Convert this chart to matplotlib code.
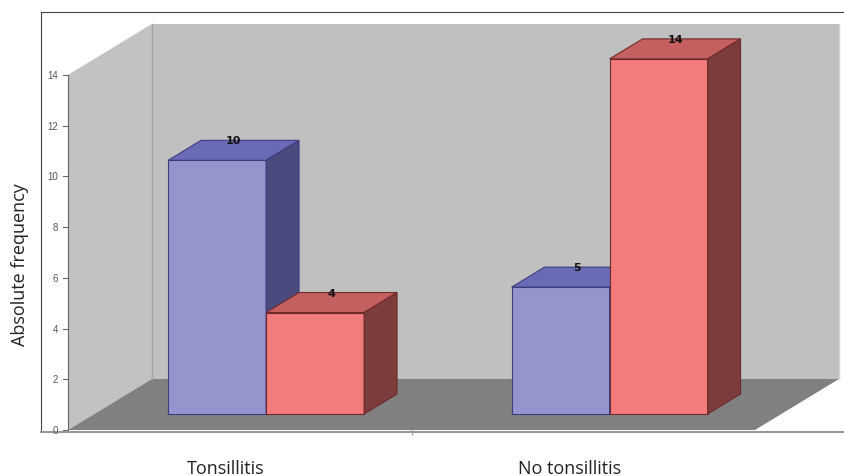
"""
3D-style grouped bar chart: tonsillitis vs. no tonsillitis, absolute frequencies.
Saves out.png.
"""

import matplotlib

matplotlib.use("Agg")
import matplotlib.pyplot as plt
from matplotlib.patches import Polygon

CATEGORIES = ["Tonsillitis", "No tonsillitis"]
SERIES_BLUE = [10, 5]
SERIES_RED = [4, 14]
Y_TICKS = [0, 2, 4, 6, 8, 10, 12, 14]
WALL_TOP = 14

# face colours (front, top, side, edge)
BLUE = ("#9594cc", "#6a6ab6", "#4a4a7e", "#3c3c80")
RED = ("#f27c7c", "#c56060", "#7c3c3c", "#6e2a2a")

# projection of the depth axis onto the plot (in data units)
DX, DY = 0.2445, 2.011
D0, D1 = 0.314, 0.706      # bar depth span, as fraction of the floor depth
BAR_W = 0.2853


def proj(x, v, d):
    return (x + d * DX, v + d * DY)


def face(ax, pts, color, edge="none", lw=0.8, z=1):
    ax.add_patch(Polygon([proj(*p) for p in pts], closed=True,
                         facecolor=color, edgecolor=edge, linewidth=lw, zorder=z))


def bar3d(ax, x0, value, colors, z):
    front, top, side, edge = colors
    x1 = x0 + BAR_W
    face(ax, [(x0, 0, D0), (x1, 0, D0), (x1, value, D0), (x0, value, D0)], front, edge, z=z)
    face(ax, [(x0, value, D0), (x1, value, D0), (x1, value, D1), (x0, value, D1)], top, edge, z=z)
    face(ax, [(x1, 0, D0), (x1, 0, D1), (x1, value, D1), (x1, value, D0)], side, edge, z=z)
    tx = proj(x0 + BAR_W / 2, value, (D0 + D1) / 2)[0]
    ty = proj(x0, value, D1)[1]
    ax.text(tx, ty, f"{value}", ha="center", va="center", fontsize=8,
            fontweight="bold", color="#111111", zorder=z + 1)


def main():
    fig = plt.figure(figsize=(8.45, 4.77), dpi=100)
    ax = fig.add_axes([41 / 845, 44 / 477, 804 / 845, 420 / 477])
    ax.set_xlim(-0.5786, 1.762)
    ax.set_ylim(-0.079, 16.48)

    n = len(CATEGORIES)
    left, right = -0.5, n - 0.5

    # walls and floor
    face(ax, [(left, 0, 1), (right, 0, 1), (right, WALL_TOP, 1), (left, WALL_TOP, 1)],
         "#c0c0c0", z=0)
    face(ax, [(left, 0, 0), (left, 0, 1), (left, WALL_TOP, 1), (left, WALL_TOP, 0)],
         "#c2c2c2", z=0)
    face(ax, [(left, 0, 0), (right, 0, 0), (right, 0, 1), (left, 0, 1)], "#808080", z=0)
    ax.plot(*zip(proj(left, 0, 1), proj(left, WALL_TOP, 1)), color="#a4a4a4", lw=1, zorder=0.5)
    ax.plot(*zip(proj(right, 0, 1), proj(right, WALL_TOP, 1)), color="#d4d4d4", lw=1, zorder=0.5)

    # value axis on the front edge of the side wall
    ax.plot([left, left], [0, WALL_TOP], color="#666666", lw=0.8, zorder=2)
    for t in Y_TICKS:
        ax.plot([left - 0.0146, left], [t, t], color="#666666", lw=0.8, zorder=2)
        ax.text(left - 0.028, t, str(t), ha="right", va="center", fontsize=7,
                color="#555555", family="Liberation Sans")

    for i in range(n):
        bar3d(ax, i - BAR_W, SERIES_BLUE[i], BLUE, z=3 + 2 * i)
        bar3d(ax, i, SERIES_RED[i], RED, z=4 + 2 * i)
        ax.text(i - 0.04, -1.5, CATEGORIES[i], ha="center", va="center",
                fontsize=13, color="#222222", family="Open Sans")

    ax.set_ylabel("Absolute frequency", fontsize=13, color="#222222", family="Open Sans")
    ax.yaxis.set_label_coords(-0.015, 0.4)
    ax.set_yticks([])
    ax.set_xticks([0.5])
    ax.set_xticklabels([""])
    ax.tick_params(axis="x", direction="inout", length=5, color="#999999")
    ax.spines["right"].set_visible(False)
    ax.spines["top"].set_color("#444444")
    ax.spines["left"].set_color("#444444")
    ax.spines["bottom"].set_color("#999999")
    ax.spines["bottom"].set_linewidth(1.5)

    fig.savefig("out.png", dpi=100)


if __name__ == "__main__":
    main()
